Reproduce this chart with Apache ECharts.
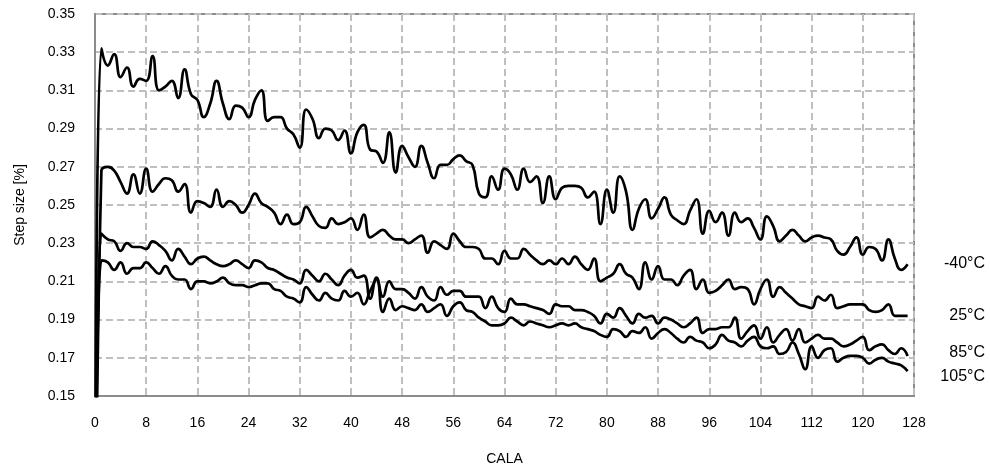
<!DOCTYPE html>
<html>
<head>
<meta charset="utf-8">
<script src="https://cdn.jsdelivr.net/npm/echarts@6/dist/echarts.min.js"></script>
<style>html,body{margin:0;padding:0;background:#fff;}#c{width:990px;height:472px;}</style>
</head>
<body>
<div id="c"></div>
<script>
const xTicks = [0, 8, 16, 24, 32, 40, 48, 56, 64, 72, 80, 88, 96, 104, 112, 120, 128];
const yTicks = [0.15, 0.17, 0.19, 0.21, 0.23, 0.25, 0.27, 0.29, 0.31, 0.33, 0.35];
const seriesNames = ['-40°C', '25°C', '85°C', '105°C'];

const tempM40 = [0,
0.332,0.323,0.329,0.317,0.322,0.312,0.316,0.315,0.328,0.310,
0.312,0.315,0.306,0.321,0.308,0.305,0.296,0.303,0.315,0.303,
0.295,0.302,0.301,0.296,0.305,0.310,0.294,0.296,0.296,0.290,
0.287,0.280,0.300,0.295,0.285,0.290,0.289,0.284,0.289,0.277,
0.288,0.292,0.279,0.278,0.272,0.288,0.267,0.281,0.275,0.270,
0.281,0.272,0.264,0.271,0.271,0.274,0.276,0.273,0.271,0.256,
0.254,0.265,0.258,0.269,0.266,0.258,0.269,0.262,0.265,0.251,
0.265,0.253,0.259,0.260,0.260,0.259,0.254,0.257,0.240,0.258,
0.246,0.265,0.257,0.237,0.248,0.253,0.243,0.248,0.254,0.245,
0.242,0.240,0.247,0.253,0.235,0.247,0.241,0.246,0.234,0.246,
0.241,0.243,0.238,0.232,0.244,0.239,0.231,0.234,0.237,0.234,
0.231,0.233,0.234,0.233,0.232,0.226,0.224,0.228,0.233,0.224,
0.228,0.227,0.221,0.232,0.222,0.216,0.219];

const temp25 = [0,
0.268,0.270,0.268,0.262,0.256,0.266,0.256,0.269,0.257,0.261,
0.264,0.263,0.257,0.261,0.246,0.252,0.251,0.249,0.258,0.249,
0.252,0.250,0.246,0.250,0.256,0.251,0.249,0.246,0.240,0.245,
0.240,0.241,0.249,0.244,0.239,0.238,0.243,0.240,0.241,0.243,
0.237,0.245,0.233,0.235,0.237,0.234,0.232,0.232,0.230,0.232,
0.234,0.225,0.231,0.229,0.227,0.235,0.231,0.228,0.228,0.227,
0.222,0.222,0.219,0.226,0.222,0.222,0.227,0.224,0.221,0.219,
0.221,0.219,0.222,0.219,0.223,0.219,0.216,0.222,0.210,0.212,
0.214,0.219,0.214,0.212,0.206,0.220,0.211,0.218,0.211,0.211,
0.208,0.213,0.216,0.206,0.211,0.204,0.205,0.208,0.211,0.206,
0.207,0.206,0.198,0.206,0.211,0.202,0.207,0.204,0.201,0.198,
0.197,0.196,0.202,0.200,0.203,0.196,0.197,0.198,0.198,0.198,
0.195,0.194,0.195,0.198,0.192,0.192,0.192];

const temp85 = [0,
0.235,0.232,0.231,0.226,0.230,0.228,0.228,0.227,0.231,0.229,
0.226,0.221,0.227,0.223,0.219,0.222,0.223,0.221,0.219,0.218,
0.219,0.221,0.219,0.217,0.221,0.220,0.217,0.216,0.214,0.212,
0.211,0.209,0.216,0.213,0.210,0.214,0.211,0.208,0.213,0.216,
0.212,0.213,0.201,0.212,0.202,0.210,0.206,0.206,0.204,0.201,
0.207,0.202,0.200,0.207,0.203,0.205,0.205,0.202,0.202,0.202,
0.196,0.202,0.196,0.194,0.201,0.198,0.198,0.197,0.196,0.195,
0.193,0.198,0.197,0.197,0.195,0.195,0.194,0.192,0.188,0.193,
0.191,0.196,0.192,0.188,0.193,0.191,0.192,0.188,0.191,0.190,
0.188,0.186,0.188,0.191,0.183,0.185,0.185,0.186,0.186,0.191,
0.180,0.184,0.187,0.180,0.186,0.178,0.182,0.185,0.179,0.185,
0.178,0.180,0.182,0.180,0.180,0.178,0.176,0.177,0.179,0.181,
0.174,0.176,0.177,0.174,0.172,0.175,0.171];

const temp105 = [0,
0.221,0.220,0.216,0.220,0.214,0.217,0.217,0.220,0.217,0.214,
0.218,0.213,0.211,0.211,0.206,0.210,0.210,0.209,0.210,0.212,
0.209,0.208,0.208,0.207,0.208,0.209,0.209,0.206,0.205,0.202,
0.201,0.199,0.207,0.203,0.200,0.204,0.201,0.200,0.205,0.202,
0.204,0.198,0.205,0.211,0.194,0.201,0.195,0.197,0.196,0.195,
0.198,0.194,0.196,0.198,0.192,0.197,0.199,0.195,0.194,0.191,
0.189,0.187,0.187,0.188,0.191,0.189,0.187,0.189,0.188,0.187,
0.186,0.187,0.188,0.187,0.188,0.186,0.185,0.184,0.182,0.181,
0.185,0.184,0.181,0.184,0.183,0.186,0.180,0.183,0.185,0.183,
0.180,0.178,0.181,0.179,0.178,0.175,0.177,0.182,0.179,0.178,
0.176,0.179,0.181,0.176,0.175,0.176,0.172,0.173,0.178,0.172,
0.164,0.176,0.170,0.174,0.175,0.168,0.170,0.171,0.171,0.170,
0.167,0.169,0.170,0.168,0.167,0.166,0.163];

const allSeries = [tempM40, temp25, temp85, temp105];
const FONT = '"Liberation Sans", Arial, sans-serif';

const chart = echarts.init(document.getElementById('c'), null, {renderer: 'canvas'});
const option = {
  animation: false,
  backgroundColor: '#ffffff',
  grid: {left: 95, right: 76, top: 14, bottom: 76, show: true, borderColor: '#8c8c8c', borderWidth: 2, backgroundColor: 'transparent'},
  xAxis: {
    type: 'value', min: xTicks[0], max: xTicks[xTicks.length - 1], interval: 8,
    name: 'CALA', nameLocation: 'middle', nameGap: 56,
    nameTextStyle: {fontFamily: FONT, fontSize: 14, color: '#000'},
    axisLine: {show: true, lineStyle: {color: '#8c8c8c', width: 2}},
    axisTick: {show: false},
    axisLabel: {fontFamily: FONT, fontSize: 14, color: '#000', margin: 20},
    splitLine: {show: true, lineStyle: {color: '#bfbfbf', width: 2, type: [7, 4]}}
  },
  yAxis: {
    type: 'value', min: yTicks[0], max: yTicks[yTicks.length - 1], interval: 0.02,
    name: 'Step size [%]', nameLocation: 'middle', nameGap: 68, nameRotate: 90,
    nameTextStyle: {fontFamily: FONT, fontSize: 14, color: '#000'},
    axisLine: {show: true, lineStyle: {color: '#8c8c8c', width: 2}},
    axisTick: {show: false},
    axisLabel: {fontFamily: FONT, fontSize: 14, color: '#000', margin: 20, formatter: v => v.toFixed(2)},
    splitLine: {show: true, lineStyle: {color: '#bfbfbf', width: 2, type: [7, 4]}}
  },
  series: allSeries.map((arr, i) => ({
    name: seriesNames[i],
    type: 'line',
    data: arr.map((v, k) => [k, v]),
    showSymbol: false,
    smooth: 0.5,
    clip: true,
    lineStyle: {color: '#000', width: 2.7},
    z: 5 - i
  })),
  graphic: [
    {type: 'text', right: 5, top: 256, style: {text: seriesNames[0], font: '16px ' + FONT, fill: '#000'}},
    {type: 'text', right: 5, top: 308, style: {text: seriesNames[1], font: '16px ' + FONT, fill: '#000'}},
    {type: 'text', right: 5, top: 345, style: {text: seriesNames[2], font: '16px ' + FONT, fill: '#000'}},
    {type: 'text', right: 5, top: 369, style: {text: seriesNames[3], font: '16px ' + FONT, fill: '#000'}}
  ]
};
chart.setOption(option);
</script>
</body>
</html>
